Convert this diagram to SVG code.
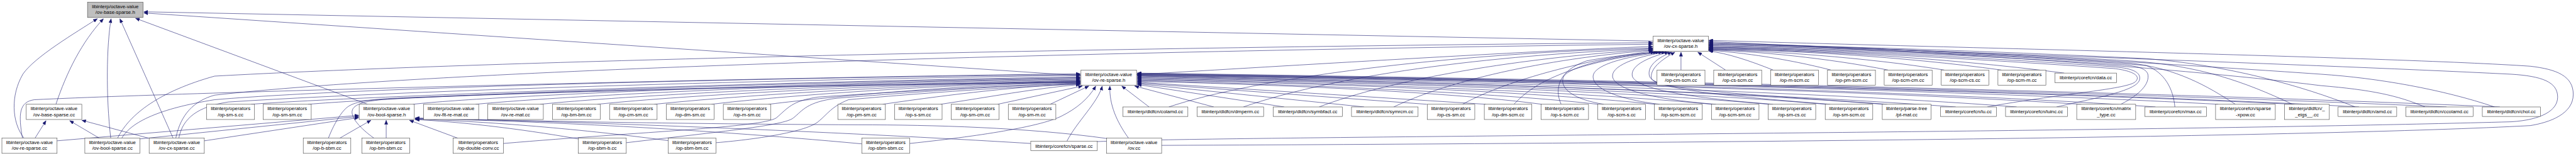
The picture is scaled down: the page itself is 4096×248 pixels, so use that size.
<svg xmlns="http://www.w3.org/2000/svg" width="4096" height="248" viewBox="0 0 4096 248">
<style>
.n rect{fill:#fff;stroke:#404040;stroke-width:1}
.r rect{fill:#bfbfbf}
text{font-family:"Liberation Sans",Arial,sans-serif;font-size:13px;text-anchor:middle;fill:#000}
</style>
<defs>
<marker id="ah" markerWidth="11" markerHeight="9" refX="11" refY="4.5" orient="auto" markerUnits="userSpaceOnUse"><path d="M0,0 L11,4.5 L0,9 z" fill="#191970" stroke="#191970" stroke-width="0.5"/></marker>
</defs>
<rect width="4096" height="248" fill="#fff"/>
<g transform="scale(0.605)">
<g id="edges" fill="none" stroke="#191970" stroke-width="1" marker-end="url(#ah)">
<path d="M63,363 C30,320 28,250 60,195 C90,150 200,85 256,49"/>
<path d="M147,274 C175,190 215,110 272,49"/>
<path d="M291,363 C278,250 280,120 292,49"/>
<path d="M455,363 L315,49"/>
<path d="M966,274 L356,48"/>
<path d="M2841,199 L378,34"/>
<path d="M4345,108 L378,31"/>
<path d="M92,363 L121,317"/>
<path d="M261,363 L183,317"/>
<path d="M390,363 L215,316"/>
<path d="M150,370 L943,303"/>
<path d="M368,365 L943,306"/>
<path d="M537,370 L943,309"/>
<path d="M893,363 L975,316"/>
<path d="M1015,363 L1015,316"/>
<path d="M1203,363 L1076,316"/>
<path d="M1525,366 C1350,335 1200,320 1091,314"/>
<path d="M1760,370 C1500,335 1250,318 1091,313"/>
<path d="M2265,378 C1800,335 1350,316 1091,312"/>
<path d="M2709,377 C2100,340 1400,316 1091,311"/>
<path d="M2910,364 C2700,335 2450,328 2256,328 C1700,325 1300,316 1091,310"/>
<path d="M59,363 C48,300 50,268 90,262 C600,238 2200,200 2839,194"/>
<path d="M320,363 C345,320 420,285 564,262 C1000,225 2200,202 2839,196"/>
<path d="M470,363 C480,310 520,280 600,268 C1200,230 2300,205 2839,198"/>
<path d="M660,274 C900,255 2000,215 2839,202"/>
<path d="M810,274 C1100,250 2100,215 2839,204"/>
<path d="M1085,274 C1300,250 2200,215 2839,206"/>
<path d="M1250,274 C1500,250 2250,215 2839,208"/>
<path d="M1420,274 C1650,250 2300,218 2839,210"/>
<path d="M1570,274 C1800,250 2350,220 2839,212"/>
<path d="M1720,274 C1950,250 2400,222 2839,213"/>
<path d="M1870,274 C2050,252 2450,223 2839,214"/>
<path d="M2020,274 C2200,252 2500,225 2839,215"/>
<path d="M2320,274 C2450,255 2650,228 2839,220"/>
<path d="M2472,274 C2600,255 2720,232 2839,222"/>
<path d="M2622,274 L2845,226"/>
<path d="M2760,274 L2862,226"/>
<path d="M863,363 C880,320 900,290 915,280 C935,266 980,260 1060,257 C1600,234 2300,220 2839,216"/>
<path d="M983,363 C950,340 915,305 928,285 C940,268 980,262 1060,258 C1600,235 2300,222 2839,217"/>
<path d="M1323,377 C1700,345 2000,335 2040,310 C2070,285 2080,265 2150,255 C2400,238 2700,222 2839,218"/>
<path d="M1646,375 C1900,345 2060,330 2085,310 C2110,290 2120,268 2200,258 C2450,238 2700,222 2839,219"/>
<path d="M1882,375 C2000,365 2120,345 2150,320 C2175,300 2185,280 2230,262 C2450,242 2700,226 2839,221"/>
<path d="M2391,377 C2600,355 2740,330 2790,305 C2830,285 2860,260 2880,226"/>
<path d="M2804,371 C2830,320 2885,270 2897,226"/>
<path d="M2966,363 C2935,320 2915,275 2917,226"/>
<path d="M3020,281 L2948,226"/>
<path d="M3190,281 L2982,226"/>
<path d="M3375,281 L2989,222"/>
<path d="M3585,281 L2989,220"/>
<path d="M3750,274 L2989,218"/>
<path d="M3905,274 L2989,216"/>
<path d="M4052,274 C3800,240 3300,220 2989,214"/>
<path d="M4200,274 C3900,240 3300,218 2989,212"/>
<path d="M4350,274 C4000,238 3400,216 2989,210"/>
<path d="M4500,274 C4100,236 3400,215 2989,208"/>
<path d="M4650,274 C4200,234 3500,214 2989,206"/>
<path d="M4800,274 C4300,232 3500,213 2989,204"/>
<path d="M4950,274 C4400,232 3600,212 2989,202"/>
<path d="M5140,281 C4500,235 3600,212 2989,200"/>
<path d="M5300,281 C4700,235 3700,211 2989,199"/>
<path d="M5470,274 C4800,232 3800,210 2989,198"/>
<path d="M5665,281 C5000,235 3900,210 2989,197"/>
<path d="M5830,274 C5100,235 4000,210 2989,196"/>
<path d="M6030,274 C5200,235 4000,210 2989,195"/>
<path d="M6200,281 C5400,238 4100,210 2989,194"/>
<path d="M6430,281 C5500,240 4200,210 2989,193"/>
<path d="M6570,281 C5600,240 4300,210 2989,192"/>
<path d="M309,363 C340,300 420,240 564,200 C1200,165 2600,128 4344,112"/>
<path d="M462,363 C475,300 510,265 564,250 C1100,190 2500,140 4344,116"/>
<path d="M2987,196 C3400,172 4000,135 4344,122"/>
<path d="M3072,281 C3300,205 3800,140 4344,126"/>
<path d="M3268,281 C3500,200 3900,145 4344,128"/>
<path d="M3467,281 C3650,210 4000,150 4344,130"/>
<path d="M3663,281 C3800,215 4050,155 4344,132"/>
<path d="M3844,274 C3950,215 4150,160 4344,134"/>
<path d="M3979,274 C4020,230 4100,170 4349,137"/>
<path d="M4103,274 C4085,235 4095,185 4170,160 C4250,145 4320,140 4356,137"/>
<path d="M4215,274 C4140,262 4100,235 4108,205 C4115,175 4250,145 4362,137"/>
<path d="M4362,274 C4260,262 4185,235 4187,200 C4190,165 4300,145 4370,137"/>
<path d="M4510,274 C4350,262 4240,235 4238,200 C4237,168 4320,145 4378,137"/>
<path d="M4660,274 C4450,258 4300,235 4290,200 C4284,170 4340,148 4386,137"/>
<path d="M4810,274 C4500,250 4345,232 4335,200 C4328,172 4360,150 4394,137"/>
<path d="M4960,274 C4600,248 4345,236 4340,205 C4336,175 4380,150 4402,137"/>
<path d="M4418,184 L4418,137"/>
<path d="M4535,184 L4462,137"/>
<path d="M4660,184 C4600,160 4540,140 4491,134"/>
<path d="M4812,184 C4700,155 4580,138 4491,132"/>
<path d="M4962,184 C4800,152 4620,135 4491,131"/>
<path d="M5110,184 C4900,150 4650,134 4491,130"/>
<path d="M5260,184 C5000,148 4700,132 4491,129"/>
<path d="M5425,192 C5100,150 4750,132 4491,128"/>
<path d="M5223,281 C5400,248 5590,235 5612,215 C5630,198 5600,185 5555,180 C5200,155 4750,130 4491,126"/>
<path d="M5405,281 C5520,255 5615,238 5623,210 C5628,190 5605,180 5560,176 C5200,150 4750,128 4491,125"/>
<path d="M5574,274 C5625,248 5650,220 5645,195 C5640,178 5610,172 5570,170 C5200,145 4750,127 4491,124"/>
<path d="M5716,281 C5712,235 5690,190 5640,172 C5300,145 4800,126 4491,122"/>
<path d="M5875,274 C5800,225 5720,180 5600,166 C5200,140 4800,124 4491,120"/>
<path d="M6025,274 C5900,215 5780,172 5600,160 C5200,137 4800,122 4491,118"/>
<path d="M6190,281 C6050,225 5850,170 5640,154 C5200,133 4800,120 4491,116"/>
<path d="M6373,281 C6300,250 6230,236 6100,225 C5700,175 4950,125 4491,114"/>
<path d="M6556,281 C6420,235 6250,205 6100,195 C5600,160 4900,122 4491,112"/>
<path d="M2884,372 C3200,358 5500,350 6600,320 C6680,315 6722,290 6722,255 C6722,215 6680,200 6600,195 C6000,165 5000,135 4491,109"/>
<path d="M3053,382 C4500,376 6100,360 6650,330 C6700,322 6763,300 6763,248 C6763,200 6720,182 6650,174 C6300,150 5000,122 4491,106"/>
</g>
<g id="n_root" class="n r"><rect x="230" y="6" width="146" height="40"/><text x="303" y="22">libinterp/octave-value</text><text x="303" y="37">/ov-base-sparse.h</text></g>
<g id="n_ov_base_sparse_cc" class="n"><rect x="69" y="274" width="146" height="40"/><text x="142" y="290">libinterp/octave-value</text><text x="142" y="305">/ov-base-sparse.cc</text></g>
<g id="n_ov_re_sparse_cc" class="n"><rect x="5" y="363" width="145" height="40"/><text x="77.5" y="379">libinterp/octave-value</text><text x="77.5" y="394">/ov-re-sparse.cc</text></g>
<g id="n_ov_bool_sparse_cc" class="n"><rect x="223" y="363" width="145" height="40"/><text x="295.5" y="379">libinterp/octave-value</text><text x="295.5" y="394">/ov-bool-sparse.cc</text></g>
<g id="n_ov_cx_sparse_cc" class="n"><rect x="392" y="363" width="145" height="40"/><text x="464.5" y="379">libinterp/octave-value</text><text x="464.5" y="394">/ov-cx-sparse.cc</text></g>
<g id="n_op_sm_s" class="n"><rect x="543" y="274" width="126" height="40"/><text x="606" y="290">libinterp/operators</text><text x="606" y="305">/op-sm-s.cc</text></g>
<g id="n_op_sm_sm" class="n"><rect x="692" y="274" width="126" height="40"/><text x="755" y="290">libinterp/operators</text><text x="755" y="305">/op-sm-sm.cc</text></g>
<g id="n_ov_bool_sparse_h" class="n"><rect x="944" y="274" width="145" height="40"/><text x="1016.5" y="290">libinterp/octave-value</text><text x="1016.5" y="305">/ov-bool-sparse.h</text></g>
<g id="n_ov_flt_re_mat" class="n"><rect x="1113" y="274" width="145" height="40"/><text x="1185.5" y="290">libinterp/octave-value</text><text x="1185.5" y="305">/ov-flt-re-mat.cc</text></g>
<g id="n_op_b_sbm" class="n"><rect x="797" y="363" width="125" height="40"/><text x="859.5" y="379">libinterp/operators</text><text x="859.5" y="394">/op-b-sbm.cc</text></g>
<g id="n_op_bm_sbm" class="n"><rect x="951" y="363" width="126" height="40"/><text x="1014" y="379">libinterp/operators</text><text x="1014" y="394">/op-bm-sbm.cc</text></g>
<g id="n_ov_re_mat" class="n"><rect x="1282" y="274" width="146" height="40"/><text x="1355" y="290">libinterp/octave-value</text><text x="1355" y="305">/ov-re-mat.cc</text></g>
<g id="n_op_bm_bm" class="n"><rect x="1452" y="274" width="126" height="40"/><text x="1515" y="290">libinterp/operators</text><text x="1515" y="305">/op-bm-bm.cc</text></g>
<g id="n_op_cm_sm" class="n"><rect x="1602" y="274" width="125" height="40"/><text x="1664.5" y="290">libinterp/operators</text><text x="1664.5" y="305">/op-cm-sm.cc</text></g>
<g id="n_op_double_conv" class="n"><rect x="1191" y="363" width="132" height="40"/><text x="1257" y="379">libinterp/operators</text><text x="1257" y="394">/op-double-conv.cc</text></g>
<g id="n_op_sbm_b" class="n"><rect x="1520" y="363" width="126" height="40"/><text x="1583" y="379">libinterp/operators</text><text x="1583" y="394">/op-sbm-b.cc</text></g>
<g id="n_op_dm_sm" class="n"><rect x="1751" y="274" width="126" height="40"/><text x="1814" y="290">libinterp/operators</text><text x="1814" y="305">/op-dm-sm.cc</text></g>
<g id="n_op_m_sm" class="n"><rect x="1901" y="274" width="125" height="40"/><text x="1963.5" y="290">libinterp/operators</text><text x="1963.5" y="305">/op-m-sm.cc</text></g>
<g id="n_op_pm_sm" class="n"><rect x="2202" y="274" width="125" height="40"/><text x="2264.5" y="290">libinterp/operators</text><text x="2264.5" y="305">/op-pm-sm.cc</text></g>
<g id="n_op_sbm_bm" class="n"><rect x="1756" y="363" width="126" height="40"/><text x="1819" y="379">libinterp/operators</text><text x="1819" y="394">/op-sbm-bm.cc</text></g>
<g id="n_op_s_sm" class="n"><rect x="2351" y="274" width="125" height="40"/><text x="2413.5" y="290">libinterp/operators</text><text x="2413.5" y="305">/op-s-sm.cc</text></g>
<g id="n_op_sm_cm" class="n"><rect x="2500" y="274" width="126" height="40"/><text x="2563" y="290">libinterp/operators</text><text x="2563" y="305">/op-sm-cm.cc</text></g>
<g id="n_op_sm_m" class="n"><rect x="2650" y="274" width="125" height="40"/><text x="2712.5" y="290">libinterp/operators</text><text x="2712.5" y="305">/op-sm-m.cc</text></g>
<g id="n_op_sbm_sbm" class="n"><rect x="2265" y="363" width="126" height="40"/><text x="2328" y="379">libinterp/operators</text><text x="2328" y="394">/op-sbm-sbm.cc</text></g>
<g id="n_sparse_cc" class="n"><rect x="2709" y="371" width="175" height="25"/><text x="2796.5" y="388">libinterp/corefcn/sparse.cc</text></g>
<g id="n_ov_re_sparse_h" class="n"><rect x="2841" y="184" width="146" height="40"/><text x="2914" y="200">libinterp/octave-value</text><text x="2914" y="215">/ov-re-sparse.h</text></g>
<g id="n_ov_cc" class="n"><rect x="2908" y="363" width="145" height="40"/><text x="2980.5" y="379">libinterp/octave-value</text><text x="2980.5" y="394">/ov.cc</text></g>
<g id="n_colamd" class="n"><rect x="2951" y="281" width="171" height="25"/><text x="3036.5" y="298">libinterp/dldfcn/colamd.cc</text></g>
<g id="n_dmperm" class="n"><rect x="3146" y="281" width="175" height="25"/><text x="3233.5" y="298">libinterp/dldfcn/dmperm.cc</text></g>
<g id="n_symbfact" class="n"><rect x="3346" y="281" width="182" height="25"/><text x="3437" y="298">libinterp/dldfcn/symbfact.cc</text></g>
<g id="n_symrcm" class="n"><rect x="3552" y="281" width="175" height="25"/><text x="3639.5" y="298">libinterp/dldfcn/symrcm.cc</text></g>
<g id="n_op_cs_sm" class="n"><rect x="3751" y="274" width="125" height="40"/><text x="3813.5" y="290">libinterp/operators</text><text x="3813.5" y="305">/op-cs-sm.cc</text></g>
<g id="n_op_dm_scm" class="n"><rect x="3901" y="274" width="125" height="40"/><text x="3963.5" y="290">libinterp/operators</text><text x="3963.5" y="305">/op-dm-scm.cc</text></g>
<g id="n_ov_cx_sparse_h" class="n"><rect x="4345" y="95" width="145" height="40"/><text x="4417.5" y="111">libinterp/octave-value</text><text x="4417.5" y="126">/ov-cx-sparse.h</text></g>
<g id="n_op_cm_scm" class="n"><rect x="4355" y="184" width="126" height="40"/><text x="4418" y="200">libinterp/operators</text><text x="4418" y="215">/op-cm-scm.cc</text></g>
<g id="n_op_cs_scm" class="n"><rect x="4504" y="184" width="126" height="40"/><text x="4567" y="200">libinterp/operators</text><text x="4567" y="215">/op-cs-scm.cc</text></g>
<g id="n_op_s_scm" class="n"><rect x="4050" y="274" width="125" height="40"/><text x="4112.5" y="290">libinterp/operators</text><text x="4112.5" y="305">/op-s-scm.cc</text></g>
<g id="n_op_scm_s" class="n"><rect x="4199" y="274" width="126" height="40"/><text x="4262" y="290">libinterp/operators</text><text x="4262" y="305">/op-scm-s.cc</text></g>
<g id="n_op_scm_scm" class="n"><rect x="4348" y="274" width="126" height="40"/><text x="4411" y="290">libinterp/operators</text><text x="4411" y="305">/op-scm-scm.cc</text></g>
<g id="n_op_scm_sm" class="n"><rect x="4498" y="274" width="125" height="40"/><text x="4560.5" y="290">libinterp/operators</text><text x="4560.5" y="305">/op-scm-sm.cc</text></g>
<g id="n_op_m_scm" class="n"><rect x="4654" y="184" width="125" height="40"/><text x="4716.5" y="200">libinterp/operators</text><text x="4716.5" y="215">/op-m-scm.cc</text></g>
<g id="n_op_pm_scm" class="n"><rect x="4803" y="184" width="126" height="40"/><text x="4866" y="200">libinterp/operators</text><text x="4866" y="215">/op-pm-scm.cc</text></g>
<g id="n_op_scm_cm" class="n"><rect x="4952" y="184" width="126" height="40"/><text x="5015" y="200">libinterp/operators</text><text x="5015" y="215">/op-scm-cm.cc</text></g>
<g id="n_op_sm_cs" class="n"><rect x="4647" y="274" width="125" height="40"/><text x="4709.5" y="290">libinterp/operators</text><text x="4709.5" y="305">/op-sm-cs.cc</text></g>
<g id="n_op_sm_scm" class="n"><rect x="4797" y="274" width="125" height="40"/><text x="4859.5" y="290">libinterp/operators</text><text x="4859.5" y="305">/op-sm-scm.cc</text></g>
<g id="n_pt_mat" class="n"><rect x="4947" y="274" width="128" height="40"/><text x="5011" y="290">libinterp/parse-tree</text><text x="5011" y="305">/pt-mat.cc</text></g>
<g id="n_op_scm_cs" class="n"><rect x="5102" y="184" width="125" height="40"/><text x="5164.5" y="200">libinterp/operators</text><text x="5164.5" y="215">/op-scm-cs.cc</text></g>
<g id="n_op_scm_m" class="n"><rect x="5251" y="184" width="126" height="40"/><text x="5314" y="200">libinterp/operators</text><text x="5314" y="215">/op-scm-m.cc</text></g>
<g id="n_data" class="n"><rect x="5401" y="192" width="162" height="25"/><text x="5482" y="209">libinterp/corefcn/data.cc</text></g>
<g id="n_lu" class="n"><rect x="5100" y="281" width="147" height="25"/><text x="5173.5" y="298">libinterp/corefcn/lu.cc</text></g>
<g id="n_luinc" class="n"><rect x="5271" y="281" width="163" height="25"/><text x="5352.5" y="298">libinterp/corefcn/luinc.cc</text></g>
<g id="n_matrix_type" class="n"><rect x="5458" y="274" width="155" height="40"/><text x="5535.5" y="290">libinterp/corefcn/matrix</text><text x="5535.5" y="305">_type.cc</text></g>
<g id="n_max" class="n"><rect x="5637" y="281" width="162" height="25"/><text x="5718" y="298">libinterp/corefcn/max.cc</text></g>
<g id="n_sparse_xpow" class="n"><rect x="5823" y="274" width="157" height="40"/><text x="5901.5" y="290">libinterp/corefcn/sparse</text><text x="5901.5" y="305">-xpow.cc</text></g>
<g id="n_eigs" class="n"><rect x="6004" y="274" width="118" height="40"/><text x="6063" y="290">libinterp/dldfcn/_</text><text x="6063" y="305">_eigs__.cc</text></g>
<g id="n_amd" class="n"><rect x="6145" y="281" width="154" height="25"/><text x="6222" y="298">libinterp/dldfcn/amd.cc</text></g>
<g id="n_ccolamd" class="n"><rect x="6323" y="281" width="177" height="25"/><text x="6411.5" y="298">libinterp/dldfcn/ccolamd.cc</text></g>
<g id="n_chol" class="n"><rect x="6524" y="281" width="153" height="25"/><text x="6600.5" y="298">libinterp/dldfcn/chol.cc</text></g>
</g>
</svg>
